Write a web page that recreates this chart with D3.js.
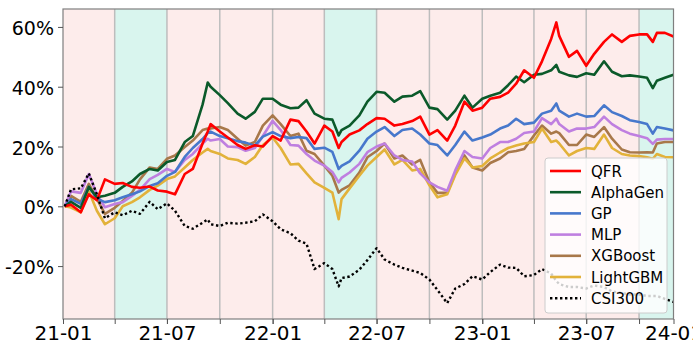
<!DOCTYPE html>
<html>
<head>
<meta charset="utf-8">
<script src="https://cdn.jsdelivr.net/npm/d3@7"></script>
<style>
  html, body { margin: 0; padding: 0; background: #fff; }
  svg { display: block; font-family: "DejaVu Sans", sans-serif; }
</style>
</head>
<body>
<div id="chart"></div>
<script>
// sampling dates (roughly semi-monthly)
var dates = [
  '2021-01-04','2021-01-15','2021-02-01','2021-02-15','2021-03-01','2021-03-15',
  '2021-04-01','2021-04-15','2021-05-01','2021-05-15','2021-06-01','2021-06-15',
  '2021-07-01','2021-07-15','2021-08-01','2021-08-15','2021-09-01','2021-09-10',
  '2021-09-15','2021-10-01','2021-10-15','2021-11-01','2021-11-15','2021-12-01',
  '2021-12-15','2022-01-01','2022-01-15','2022-02-01','2022-02-15','2022-03-01',
  '2022-03-15','2022-04-01','2022-04-15','2022-04-26','2022-05-01','2022-05-15',
  '2022-06-01','2022-06-15','2022-07-01','2022-07-15','2022-08-01','2022-08-15',
  '2022-09-01','2022-09-15','2022-10-01','2022-10-15','2022-11-01','2022-11-15',
  '2022-12-01','2022-12-15','2023-01-01','2023-01-15','2023-02-01','2023-02-15',
  '2023-03-01','2023-03-15','2023-04-01','2023-04-15','2023-05-01','2023-05-10',
  '2023-05-15','2023-06-01','2023-06-15','2023-07-01','2023-07-15','2023-08-01',
  '2023-08-15','2023-09-01','2023-09-15','2023-10-01','2023-10-15','2023-10-25',
  '2023-11-01','2023-11-15','2023-11-30'
];

// cumulative return, %
var qfr = [0,0.5,-2,4,2,9,7.5,7.8,6.5,6.2,6.6,5.3,4.9,4,10.8,12.5,21,25,27.5,25,
  23,20.5,19.2,20.4,20,23.5,22,29,28.5,25,21,27,25,19.5,21.5,24,25.4,27.5,29.5,29.3,
  27,27.5,28.5,30,24,25.5,22,27,35,32,33,36,36.6,38,41,45.5,43,48.5,56,61.5,
  57,50,52,47,51,55,57.5,55,57,57.5,57.5,55,58,58,56.8];
var alphaGen = [0,1.5,-0.5,6.5,3,3.5,4.5,6.5,8.3,10.8,12.5,12,14.8,15.5,21.5,23.5,34,41.4,40,37.2,
  34.5,31,29.3,31.6,36,36,34,32.8,33,35.5,31,29.3,29,23.7,25.5,27,30.4,35,38.3,38,
  35,36.7,37,38.5,33,32.5,29,32,37,33,36,37,38,40.5,43.4,41.5,44,44.3,45.5,47.3,
  45,43.8,43.3,44.5,44,48.5,45,43.5,43.8,43.4,43,39.5,42,43,44];
var gp = [0,2.4,0.8,6.5,2.5,1.4,2,3,4,5,6.8,7.7,10.2,11.5,16.5,19.5,22.5,24.5,25,23.5,
  22.8,21.8,21.3,20.3,23.3,24.8,23.5,22.8,23.2,22.8,19.2,19.6,18.2,12.5,13.5,15,18.6,22.6,25,26.5,
  23.5,25.5,26,24,21,20.5,17,20.5,25,22,23,24,26,27,29.3,27.5,28,31,32,34.4,
  32,30,31,30,30.2,33.8,31.5,30.2,28.8,28.2,27.5,24.3,26.5,26,25.4];
var mlp = [0,5,4.5,10.8,4,-0.3,0.8,1.4,3.5,5.5,9.1,10.5,12.5,11.5,15.5,17.5,21,22.6,22,22.5,
  20,19.8,18.6,19.5,23.5,28.6,25.5,20.5,20.3,17.5,15.3,13.6,11.5,8,9.5,11.3,14.2,18.1,20,21,
  17,15.5,15,11,8,6.5,5.2,12,18.5,16.5,16,19.5,21.5,21.5,22.6,24.5,25,29.5,27.5,29.3,
  27.5,25,26,26,26.5,30,27.5,25.5,24.3,23.5,22.8,20.9,22.3,22.5,22.5];
var xgboost = [0,3.5,1.5,7.5,2.5,-2.5,-0.5,1.8,4.5,9,13,12.5,15.9,17,19.8,22,25.5,26,26,26.5,
  25.5,22.6,20.3,21.5,27,30.4,27.5,23.5,24.3,18.6,17.5,13.6,10.2,4.6,5.5,7,11.3,16.4,18.5,21,
  16,17,14,15.5,8,4.5,4.5,11,17,13,12,14.5,16,18.1,18.5,19.2,23.7,27,24.3,25,
  24.5,20.5,20.5,24,23.2,26.5,22.6,19,18.1,18,18.1,18,21,21.5,21.5];
var lightgbm = [0,-0.4,-2,5,-1.5,-6,-4,0,1.4,3,5.5,6.9,9.1,10,13,15.5,18,19.2,18.5,17.5,
  16,15.5,14.2,16.5,20.5,23,19.5,14,14.2,11,8,6.2,4.6,-4.3,2.4,6,10.2,13.6,16.5,19,
  14,15.5,12,12.5,7,3,4,10.5,16,13,13.5,16,18,19.5,20.3,21,21.5,26,21.5,22,
  21,17,18.5,19.5,19.2,24,19.5,17.5,17,16.8,16.4,15.9,17.5,16.5,16.4];
var csi300 = [0,5.7,6,11,4,-4,-2,-3,-1.5,-2.5,1.5,-1,1,-1.5,-6.6,-7.5,-5.5,-4.4,-6,-6.6,
  -5.5,-5.8,-5.5,-5,-2.7,-5,-7.7,-9,-11.5,-12.5,-21,-19,-21,-26.8,-24,-23.5,-21.2,-18,-14,-17.8,
  -19.5,-20.6,-21.5,-22.3,-24.5,-28,-32.4,-27.5,-26,-23.4,-24.5,-22,-19.5,-20.5,-20.6,-23.4,-23,-21,-22.5,-25,
  -26,-27,-27,-27.5,-26.5,-27,-28.5,-29,-29.5,-29.5,-30,-30,-30,-31,-32];

var seriesNames = ['QFR', 'AlphaGen', 'GP', 'MLP', 'XGBoost', 'LightGBM', 'CSI300'];
var seriesValues = [qfr, alphaGen, gp, mlp, xgboost, lightgbm, csi300];
var seriesColors = ['#ff0000', '#0b5a2a', '#4778cc', '#bf7fe0', '#a8784a', '#e2b23a', '#000000'];

// market regimes per quarter (start date, kind)
var regimeStarts = ['2021-01-01','2021-04-01','2021-07-01','2021-10-01','2022-01-01','2022-04-01',
  '2022-07-01','2022-10-01','2023-01-01','2023-04-01','2023-07-01','2023-10-01'];
var regimeKinds = ['down','up','down','down','down','up','down','down','down','down','down','up'];

var yTicks = [-20, 0, 20, 40, 60];
var xLabelTicks = ['2021-01-01','2021-07-01','2022-01-01','2022-07-01','2023-01-01','2023-07-01'];
var xEnd = '2023-11-30';
var xEndLabel = '24-01';

var W = 693, H = 345;
var plotL = 63, plotR = 673.5, plotT = 9, plotB = 319;
var parse = d3.timeParse('%Y-%m-%d');

var x = d3.scaleTime()
    .domain([parse('2021-01-01'), parse(xEnd)])
    .range([plotL, plotR]);
var y = d3.scaleLinear()
    .domain([-37.7, 66])
    .range([plotB, plotT]);

var svg = d3.select('#chart')
  .append('svg')
    .attr('width', W)
    .attr('height', H);

// background regimes
var regimes = regimeStarts.map(function (s, i) {
  var end = i < regimeStarts.length - 1 ? parse(regimeStarts[i + 1]) : parse(xEnd);
  return { start: parse(s), end: end, kind: regimeKinds[i] };
});
svg.append('g')
  .selectAll('rect')
  .data(regimes)
  .join('rect')
    .attr('x', function (d) { return x(d.start); })
    .attr('y', plotT)
    .attr('width', function (d) { return x(d.end) - x(d.start); })
    .attr('height', plotB - plotT)
    .attr('fill', function (d) { return d.kind === 'up' ? '#d9f5ee' : '#fdeceb'; });

svg.append('g')
  .selectAll('line')
  .data(regimes.slice(1))
  .join('line')
    .attr('x1', function (d) { return x(d.start); })
    .attr('x2', function (d) { return x(d.start); })
    .attr('y1', plotT)
    .attr('y2', plotB)
    .attr('stroke', '#bdbdbd')
    .attr('stroke-width', 1.5);

// lines
var line = d3.line()
    .x(function (d) { return x(d.date); })
    .y(function (d) { return y(d.value); });

var drawOrder = [4, 5, 3, 2, 1, 0, 6];
drawOrder.forEach(function (k) {
  var pts = dates.map(function (d, i) { return { date: parse(d), value: seriesValues[k][i] }; });
  var p = svg.append('path')
      .datum(pts)
      .attr('d', line)
      .attr('fill', 'none')
      .attr('stroke', seriesColors[k])
      .attr('stroke-linejoin', 'round');
  if (seriesNames[k] === 'CSI300') {
    p.attr('stroke-width', 2.4).attr('stroke-dasharray', '2.4,2.6');
  } else {
    p.attr('stroke-width', 2.6);
  }
});

// frame
svg.append('rect')
    .attr('x', plotL)
    .attr('y', plotT)
    .attr('width', plotR - plotL)
    .attr('height', plotB - plotT)
    .attr('fill', 'none')
    .attr('stroke', '#7f7f7f')
    .attr('stroke-width', 1.2);

// axes
var yAxis = d3.axisLeft(y)
    .tickValues(yTicks)
    .tickSize(5)
    .tickPadding(4)
    .tickFormat(function (d) { return d + '%'; });
var gy = svg.append('g')
    .attr('transform', 'translate(' + plotL + ',0)')
    .call(yAxis);

var xMinor = regimeStarts.map(parse);
var gxMinor = svg.append('g')
    .attr('transform', 'translate(0,' + plotB + ')')
    .call(d3.axisBottom(x).tickValues(xMinor).tickSize(5).tickFormat(''));

var xTickDates = xLabelTicks.map(parse).concat([parse(xEnd)]);
var gx = svg.append('g')
    .attr('transform', 'translate(0,' + plotB + ')')
    .call(d3.axisBottom(x)
      .tickValues(xTickDates)
      .tickSize(5)
      .tickPadding(2)
      .tickFormat(function (d, i) {
        return i === xTickDates.length - 1 ? xEndLabel : d3.timeFormat('%y-%m')(d);
      }));

[gy, gx, gxMinor].forEach(function (g) {
  g.select('.domain').remove();
  g.selectAll('.tick line').attr('stroke', '#555').attr('stroke-width', 1);
  g.selectAll('.tick text')
    .attr('fill', '#000')
    .style('font-size', '20px')
    .style('font-family', 'DejaVu Sans');
});
gy.selectAll('.tick text').style('font-size', '19px').attr('dy', '0.4em');

// legend
var lg = svg.append('g').attr('transform', 'translate(545,158)');
lg.append('rect')
    .attr('width', 122)
    .attr('height', 155)
    .attr('rx', 3)
    .attr('fill', '#fff')
    .attr('fill-opacity', 0.8)
    .attr('stroke', '#cccccc');
seriesNames.forEach(function (name, i) {
  var row = lg.append('g').attr('transform', 'translate(0,' + (13 + i * 21.2) + ')');
  var l = row.append('line')
      .attr('x1', 5).attr('x2', 36)
      .attr('stroke', seriesColors[i]);
  if (name === 'CSI300') {
    l.attr('stroke-width', 2.4).attr('stroke-dasharray', '2.4,2.6');
  } else {
    l.attr('stroke-width', 2.6);
  }
  row.append('text')
      .attr('x', 46)
      .attr('y', 5.5)
      .style('font-size', '15px')
      .text(name);
});
</script>
</body>
</html>
